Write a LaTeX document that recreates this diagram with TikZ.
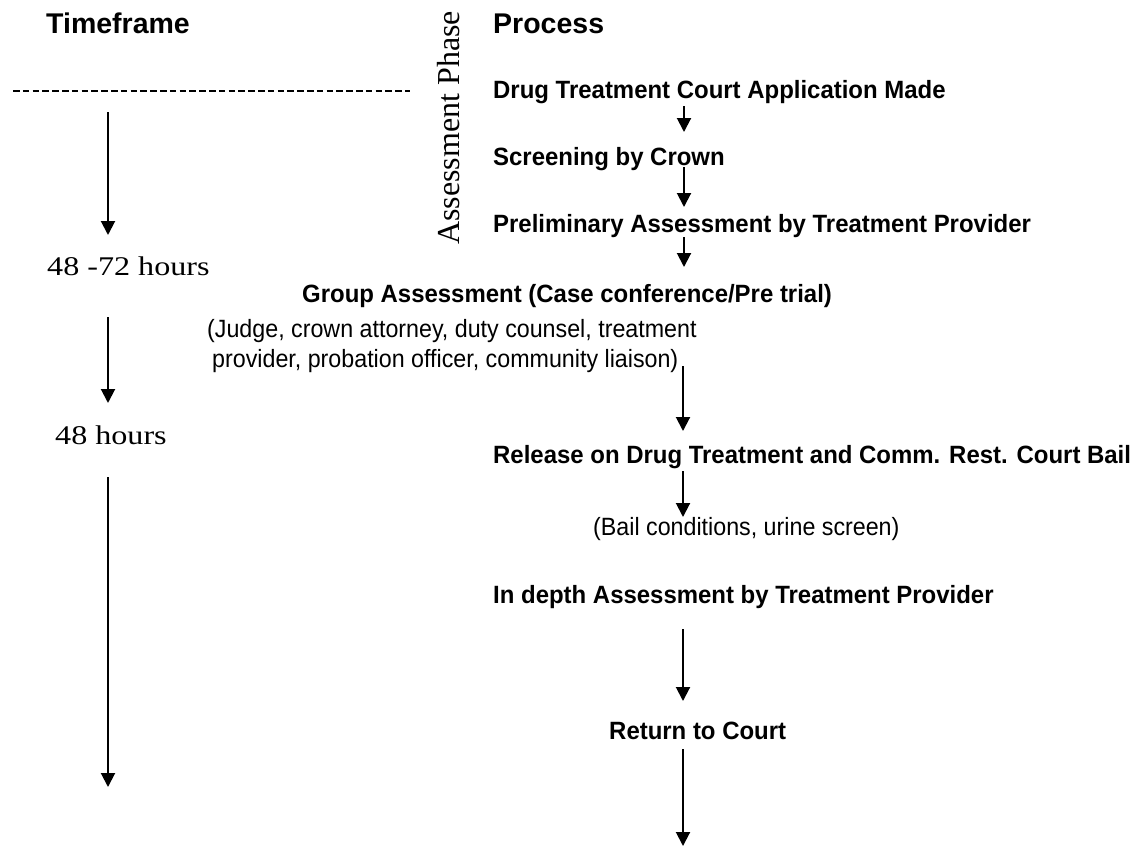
\documentclass[tikz,border=0pt]{standalone}
\usepackage{fontspec}
\usetikzlibrary{arrows.meta}
\newfontfamily\sansL[FakeStretch=0.958]{Liberation Sans}
\newfontfamily\sansP[FakeStretch=0.93]{Liberation Sans}
\newfontfamily\sansH{Liberation Sans}
\newfontfamily\serifT[FakeStretch=1.19]{Liberation Serif}
\newfontfamily\serifR{Liberation Serif}
\begin{document}
\begin{tikzpicture}[x=1pt,y=-1pt,
  hdr/.style={anchor=base west, inner sep=0pt, font=\sansH\bfseries\fontsize{28.5}{32}\selectfont},
  lbl/.style={anchor=base west, inner sep=0pt, font=\sansL\bfseries\fontsize{25}{30}\selectfont},
  note/.style={anchor=base west, inner sep=0pt, font=\sansP\fontsize{25}{30}\selectfont},
  tf/.style={anchor=base west, inner sep=0pt, font=\serifT\fontsize{27}{32}\selectfont},
  phase/.style={anchor=base west, inner sep=0pt, rotate=90, font=\serifR\fontsize{32}{36}\selectfont},
  arr/.style={line width=2pt, -{Triangle[length=14pt,width=14pt]}},
  sep/.style={line width=2pt, dash pattern=on 6.5pt off 3.3pt}]
\useasboundingbox[fill=white] (0,0) rectangle (1134,846);

% headers
\node[hdr] (tfhead) at (46,33) {Timeframe};
\node[hdr] (prhead) at (493,33) {Process};

% phase separator
\coordinate (sepL) at (13,91);
\coordinate (sepR) at (410,91);
\draw[sep] (sepL) -- (sepR);
\node[phase] (phase) at (459,245) {Assessment Phase};

% process steps
\node[lbl] (app) at (493,98) {Drug Treatment Court Application Made};
\node[lbl] (screen) at (493,165) {Screening by Crown};
\node[lbl] (prelim) at (493,232) {Preliminary Assessment by Treatment Provider};
\node[lbl] (group) at (302,302) {Group Assessment (Case conference/Pre trial)};
\node[note] (judge1) at (207,337) {(Judge, crown attorney, duty counsel, treatment};
\node[note] (judge2) at (212,367) {provider, probation officer, community liaison)};
\node[lbl] (release) at (493,463) {Release on Drug Treatment and Comm. Rest. Court Bail};
\node[note] (bail) at (593,535) {(Bail conditions, urine screen)};
\node[lbl] (indepth) at (493,603) {In depth Assessment by Treatment Provider};
\node[lbl] (ret) at (609,739) {Return to Court};

% process arrows
\coordinate (p1s) at (684,106); \coordinate (p1e) at (684,132);
\coordinate (p2s) at (684,167); \coordinate (p2e) at (684,207);
\coordinate (p3s) at (684,237); \coordinate (p3e) at (684,267);
\coordinate (p4s) at (683,366); \coordinate (p4e) at (683,431);
\coordinate (p5s) at (683,471); \coordinate (p5e) at (683,517);
\coordinate (p6s) at (683,629); \coordinate (p6e) at (683,701);
\coordinate (p7s) at (683,749); \coordinate (p7e) at (683,846);
\draw[arr] (p1s) -- (p1e);
\draw[arr] (p2s) -- (p2e);
\draw[arr] (p3s) -- (p3e);
\draw[arr] (p4s) -- (p4e);
\draw[arr] (p5s) -- (p5e);
\draw[arr] (p6s) -- (p6e);
\draw[arr] (p7s) -- (p7e);

% timeframe
\node[tf] (t1) at (47,275) {48 -72 hours};
\node[tf] (t2) at (55,444) {48 hours};
\coordinate (t1s) at (108,112); \coordinate (t1e) at (108,235);
\coordinate (t2s) at (108,317); \coordinate (t2e) at (108,403);
\coordinate (t3s) at (108,477); \coordinate (t3e) at (108,787);
\draw[arr] (t1s) -- (t1e);
\draw[arr] (t2s) -- (t2e);
\draw[arr] (t3s) -- (t3e);
\end{tikzpicture}
\end{document}
